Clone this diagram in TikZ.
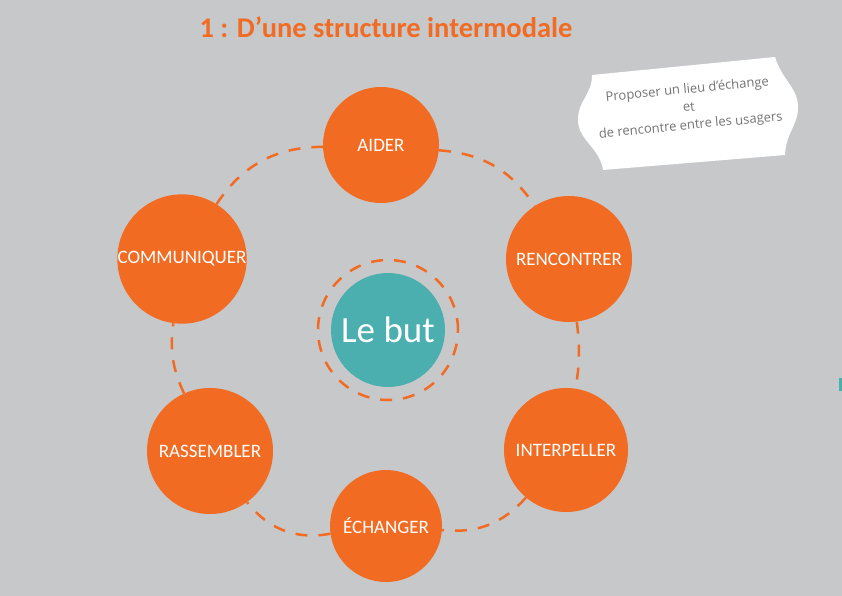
\documentclass[tikz,border=0pt]{standalone}
\usepackage{fontspec}
\setmainfont{Carlito}
\newfontfamily\tagfont{Open Sans}
\definecolor{bggray}{HTML}{C7C8CA}
\definecolor{orng}{HTML}{F26B22}
\definecolor{tealc}{HTML}{4BAEAF}
\definecolor{taggray}{HTML}{737373}
\tikzset{
  goal/.style={circle,fill=orng,text=white,inner sep=0pt,font=\fontsize{19}{19}\selectfont},
  ring/.style={orng,line width=2.5pt,dash pattern=on 12pt off 11pt},
}
\begin{document}
\begin{tikzpicture}[x=1pt,y=-1pt]
  \useasboundingbox (0,0) rectangle (842,596);
  \fill[bggray] (0,0) rectangle (842,596);
  \fill[tealc] (839,378) rectangle (842,391);
  \node[text=orng,font=\bfseries\fontsize{28.5}{28.5}\selectfont] (title) at (386,27) {1 : D'une structure intermodale};
  \fill[white] (592,75) -- (775,57) .. controls (782,80) and (798,88) .. (798,107)
    .. controls (798,126) and (786,132) .. (785,155) -- (603,170)
    .. controls (600,148) and (578,140) .. (578,120) .. controls (578,100) and (592,95) .. (592,75) -- cycle;
  \node[rotate=5.5,align=center,text=taggray,font=\tagfont\fontsize{13}{18}\selectfont] (note) at (689,108)
    {Proposer un lieu d’échange\\et\\de rencontre entre les usagers};
  \node[goal,minimum size=116pt] (aider) at (381,145) {AIDER};
  \node[goal,minimum size=126pt] (rencontrer) at (569,259) {RENCONTRER};
  \node[goal,minimum size=124pt] (interpeller) at (566,450) {INTERPELLER};
  \node[goal,minimum size=112pt] (echanger) at (386,526) {ÉCHANGER};
  \node[goal,minimum size=126pt] (rassembler) at (210,451) {RASSEMBLER};
  \node[goal,minimum size=128pt] (communiquer) at (182,259) {COMMUNIQUER};
  \node[circle,fill=tealc,text=white,inner sep=0pt,minimum size=114pt,font=\fontsize{37}{37}\selectfont] (but) at (388,330) {Le but};
  \draw[ring] (but.center) circle[radius=70pt];
  \draw[ring] (aider) to[bend left=26] (rencontrer);
  \draw[ring] (rencontrer) to[bend left=8] (interpeller);
  \draw[ring] (interpeller) to[bend left=27] (echanger);
  \draw[ring] (echanger) to[bend left=31] (rassembler);
  \draw[ring] (rassembler) to[bend left=16] (communiquer);
  \draw[ring] (communiquer) to[bend left=28] (aider);
\end{tikzpicture}
\end{document}
